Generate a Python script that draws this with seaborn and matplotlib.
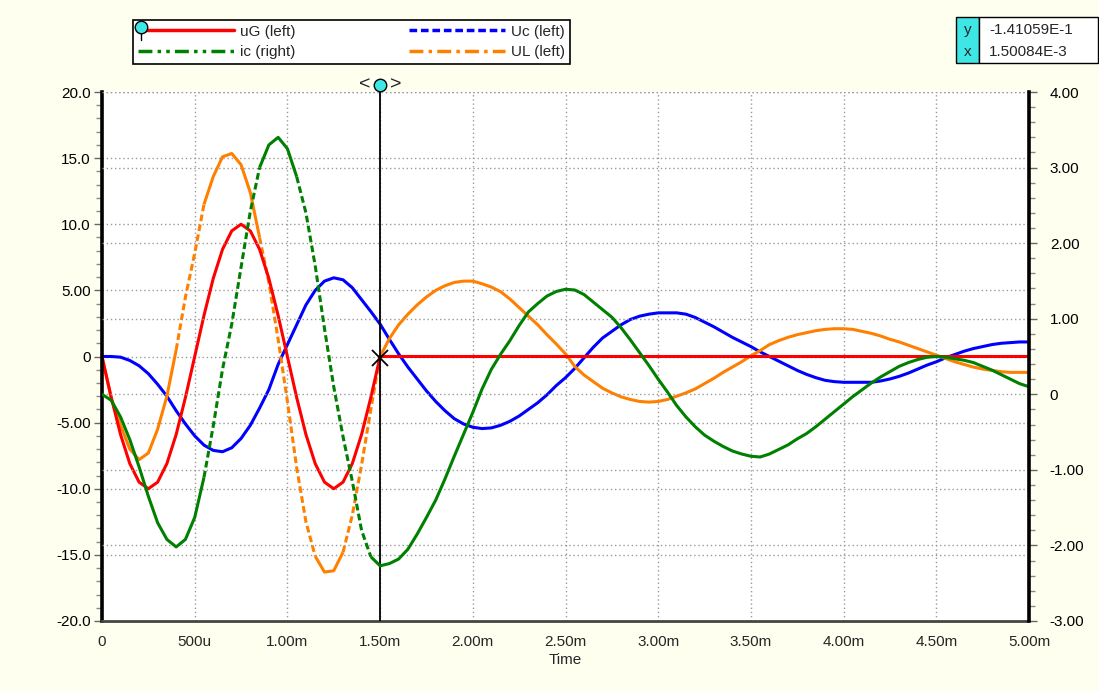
import numpy as np
import matplotlib
matplotlib.use("Agg")
import matplotlib.pyplot as plt
import matplotlib.transforms as mtransforms
from matplotlib.lines import Line2D
from matplotlib.patches import Rectangle
from matplotlib.ticker import MultipleLocator
import seaborn as sns

# ---------------- data ----------------
time_ms = np.round(np.arange(0, 5.0001, 0.05), 2)   # sample instants, ms

uG = [0, -3.1, -5.9, -8.1, -9.5, -10.0, -9.5, -8.1, -5.9, -3.1,
      0, 3.1, 5.9, 8.1, 9.5, 10.0, 9.5, 8.1, 5.9, 3.1,
      0, -3.1, -5.9, -8.1, -9.5, -10.0, -9.5, -8.1, -5.9, -3.1,
      0, 0, 0, 0, 0, 0, 0, 0, 0, 0,
      0, 0, 0, 0, 0, 0, 0, 0, 0, 0,
      0, 0, 0, 0, 0, 0, 0, 0, 0, 0,
      0, 0, 0, 0, 0, 0, 0, 0, 0, 0,
      0, 0, 0, 0, 0, 0, 0, 0, 0, 0,
      0, 0, 0, 0, 0, 0, 0, 0, 0, 0,
      0, 0, 0, 0, 0, 0, 0, 0, 0, 0, 0]

Uc = [0, 0, -0.05, -0.3, -0.7, -1.3, -2.1, -3.0, -4.1, -5.1,
      -6.0, -6.7, -7.1, -7.2, -6.9, -6.2, -5.2, -3.9, -2.5, -0.6,
      0.9, 2.4, 3.9, 5.0, 5.7, 5.95, 5.8, 5.2, 4.3, 3.4,
      2.45, 1.3, 0.2, -0.8, -1.7, -2.6, -3.4, -4.1, -4.7, -5.1,
      -5.35, -5.45, -5.4, -5.2, -4.9, -4.5, -4.0, -3.5, -2.9, -2.2,
      -1.6, -0.9, -0.1, 0.7, 1.4, 1.9, 2.4, 2.8, 3.05, 3.2,
      3.3, 3.3, 3.3, 3.2, 2.95, 2.6, 2.25, 1.85, 1.45, 1.1,
      0.75, 0.35, 0.0, -0.35, -0.7, -1.05, -1.35, -1.6, -1.8, -1.9,
      -1.95, -1.95, -1.95, -1.95, -1.85, -1.7, -1.5, -1.25, -0.95, -0.65,
      -0.4, -0.1, 0.15, 0.4, 0.6, 0.75, 0.9, 1.0, 1.05, 1.1, 1.1]

ic = [0, -0.08, -0.3, -0.6, -0.96, -1.35, -1.7, -1.92, -2.02, -1.92,
      -1.63, -1.1, -0.42, 0.33, 0.93, 1.68, 2.42, 3.0, 3.3, 3.4,
      3.25, 2.88, 2.4, 1.7, 0.87, 0.1, -0.56, -1.15, -1.8, -2.15,
      -2.27, -2.24, -2.18, -2.05, -1.85, -1.63, -1.4, -1.12, -0.82, -0.53,
      -0.24, 0.07, 0.33, 0.53, 0.71, 0.91, 1.09, 1.2, 1.3, 1.36,
      1.39, 1.38, 1.32, 1.22, 1.12, 1.02, 0.88, 0.72, 0.55, 0.38,
      0.2, 0.03, -0.15, -0.3, -0.43, -0.54, -0.62, -0.69, -0.75, -0.79,
      -0.82, -0.83, -0.79, -0.73, -0.67, -0.59, -0.52, -0.43, -0.33, -0.23,
      -0.13, -0.03, 0.06, 0.15, 0.23, 0.30, 0.37, 0.42, 0.46, 0.49,
      0.5, 0.49, 0.47, 0.45, 0.42, 0.37, 0.32, 0.26, 0.2, 0.14, 0.1]

UL = [0, -3.2, -5.2, -7.0, -7.8, -7.3, -5.5, -3.0, 0.5, 4.5,
      7.8, 11.5, 13.6, 15.1, 15.35, 14.5, 12.4, 9.0, 5.6, 1.3,
      -3.4, -8.4, -12.5, -15.1, -16.3, -16.2, -14.8, -12.0, -8.2, -4.0,
      0.0, 1.35, 2.4, 3.2, 3.9, 4.5, 5.0, 5.35, 5.6, 5.7,
      5.7, 5.5, 5.25, 4.9, 4.35, 3.7, 3.05, 2.4, 1.65, 0.95,
      0.2, -0.75, -1.4, -1.9, -2.4, -2.75, -3.05, -3.25, -3.4, -3.45,
      -3.4, -3.25, -3.0, -2.75, -2.45, -2.05, -1.65, -1.2, -0.8, -0.4,
      0.05, 0.45, 0.9, 1.2, 1.45, 1.65, 1.8, 1.95, 2.05, 2.1,
      2.1, 2.05, 1.9, 1.75, 1.55, 1.3, 1.1, 0.85, 0.6, 0.35,
      0.1, -0.15, -0.4, -0.6, -0.8, -0.95, -1.05, -1.15, -1.2, -1.2, -1.2]

x_ticks = [0, 0.5, 1.0, 1.5, 2.0, 2.5, 3.0, 3.5, 4.0, 4.5, 5.0]
x_labels = ["0", "500u", "1.00m", "1.50m", "2.00m", "2.50m", "3.00m",
            "3.50m", "4.00m", "4.50m", "5.00m"]
left_ticks = [-20, -15, -10, -5, 0, 5, 10, 15, 20]
left_labels = ["-20.0", "-15.0", "-10.0", "-5.00", "0", "5.00", "10.0", "15.0", "20.0"]
right_ticks = [-3, -2, -1, 0, 1, 2, 3, 4]
right_labels = ["-3.00", "-2.00", "-1.00", "0", "1.00", "2.00", "3.00", "4.00"]
legend_labels = ["uG (left)", "ic (right)", "Uc (left)", "UL (left)"]
cursor_t = 1.5
cursor_y = -0.141
readout_y = "-1.41059E-1"
readout_x = "1.50084E-3"

# ---------------- styling ----------------
sns.set_style("white")
plt.rcParams['font.family'] = ['Liberation Sans', 'DejaVu Sans']
FS = 11
BG = '#FFFFF0'
RED, BLUE, GREEN, ORANGE = '#FF0000', '#0000FF', '#008000', '#FF8000'
CYAN = '#3FE6E6'
LW = 2.2
DASH = (0, (2.2, 1.1))

W, H = 1099, 691
fig = plt.figure(figsize=(W / 100, H / 100), dpi=100, facecolor=BG)
ax = fig.add_axes([102 / W, 1 - 621 / H, 927 / W, 529 / H])
ax.set_facecolor('white')
ax2 = ax.twinx()

t = np.asarray(time_ms)


def draw(axis, vals, color, segments):
    v = np.asarray(vals, dtype=float)
    for i0, i1, ls in segments:
        sns.lineplot(x=t[i0:i1 + 1], y=v[i0:i1 + 1], ax=axis, color=color,
                     lw=LW, linestyle=ls, legend=False, sort=False,
                     solid_capstyle='butt')


draw(ax, Uc, BLUE, [(0, 100, '-')])
draw(ax, UL, ORANGE, [(0, 8, '-'), (8, 11, DASH), (11, 17, '-'),
                      (17, 23, DASH), (23, 26, '-'), (26, 30, DASH), (30, 100, '-')])
draw(ax, uG, RED, [(0, 100, '-')])
draw(ax2, ic, GREEN, [(0, 11, '-'), (11, 17, DASH), (17, 21, '-'),
                      (21, 29, DASH), (29, 100, '-')])

# axes limits / ticks
ax.set_xlim(0, 5.0)
ax.set_ylim(-20, 20)
ax2.set_ylim(-3, 4)
ax.set_xticks(x_ticks)
ax.set_xticklabels(x_labels, fontsize=FS)
ax.set_yticks(left_ticks)
ax.set_yticklabels(left_labels, fontsize=FS)
ax.yaxis.set_minor_locator(MultipleLocator(1))
ax2.set_yticks(right_ticks)
ax2.set_yticklabels(right_labels, fontsize=FS)
ax2.yaxis.set_minor_locator(MultipleLocator(0.2))
ax.set_xlabel("Time", fontsize=FS, labelpad=3)
ax.set_ylabel("")
ax2.set_ylabel("")

ax.tick_params(axis='y', which='major', direction='out', length=6, width=1,
               color='#666666', pad=2, labelcolor='black')
ax.tick_params(axis='y', which='minor', direction='out', length=4, width=1,
               color='#888888')
ax2.tick_params(axis='y', which='major', direction='out', length=6, width=1,
                color='#666666', pad=9, labelcolor='black')
ax2.tick_params(axis='y', which='minor', direction='out', length=4, width=1,
                color='#888888')
ax.tick_params(axis='x', which='major', direction='out', length=5, width=1,
               color='#888888', pad=5)

# grids (dotted)
grid_kw = dict(color='#9a9a9a', linestyle=(0, (1, 2)), linewidth=1.0)
ax.grid(True, axis='both', which='major', **grid_kw)
ax2.grid(True, axis='y', which='major', **grid_kw)
ax2.grid(False, axis='x')

# spines
for s in ['top', 'right']:
    ax.spines[s].set_visible(False)
for s in ['top', 'left', 'bottom']:
    ax2.spines[s].set_visible(False)
ax.spines['left'].set_linewidth(2.6)
ax.spines['left'].set_color('black')
ax2.spines['right'].set_linewidth(2.6)
ax2.spines['right'].set_color('black')
ax.spines['bottom'].set_color('#444444')
ax.spines['bottom'].set_linewidth(2.0)
ax.spines['bottom'].set_linestyle((0, (1, 1)))

# cursor
ax.axvline(cursor_t, color='black', lw=1.3, zorder=6)
ax.plot([cursor_t], [cursor_y], marker='x', ms=11, mew=1.3, color='black', zorder=7)
btr = mtransforms.blended_transform_factory(ax.transData, ax.transAxes)
ax.plot([cursor_t, cursor_t], [1.0, 1.014], color='black', lw=1.3,
        transform=btr, clip_on=False, zorder=7)
ax.plot([cursor_t], [1.014], marker='o', ms=9, mfc=CYAN, mec='black',
        mew=1.0, transform=btr, clip_on=False, zorder=8)
ax.annotate("<", xy=(cursor_t, 1.014), xycoords=btr, xytext=(-11, 0),
            textcoords='offset points', ha='center', va='center',
            fontsize=14, annotation_clip=False)
ax.annotate(">", xy=(cursor_t, 1.014), xycoords=btr, xytext=(11, 0),
            textcoords='offset points', ha='center', va='center',
            fontsize=14, annotation_clip=False)

# legend
handles = [
    Line2D([], [], color=RED, lw=2.5),
    Line2D([], [], color=GREEN, lw=2.5, linestyle=(0, (4, 1.5, 1, 1.5, 1, 1.5))),
    Line2D([], [], color=BLUE, lw=2.5, linestyle=(0, (2.2, 1.1))),
    Line2D([], [], color=ORANGE, lw=2.5, linestyle=(0, (4, 1.5, 1, 1.5))),
]
leg = fig.legend(handles, legend_labels, loc='lower left',
                 bbox_to_anchor=(133 / W, 1 - 64 / H, 437 / W, 47 / H),
                 mode='expand', ncol=2, frameon=True, fancybox=False,
                 edgecolor='black', facecolor='white', framealpha=1,
                 fontsize=FS, handlelength=6.3, handletextpad=0.4,
                 borderaxespad=0, borderpad=0.3, labelspacing=0.45)
leg.get_frame().set_linewidth(1.2)
leg.set_zorder(5)
fig.add_artist(Line2D([141 / W, 141 / W], [1 - 27 / H, 1 - 40 / H],
                      color='black', lw=1.0, transform=fig.transFigure,
                      zorder=20))
fig.add_artist(Line2D([141 / W], [1 - 27 / H], marker='o', ms=9,
                      mfc=CYAN, mec='black', mew=1.0,
                      transform=fig.transFigure, zorder=21))

# readout box (top right)
fig.add_artist(Rectangle((956 / W, 1 - 63 / H), 23 / W, 46 / H,
                         transform=fig.transFigure, facecolor=CYAN,
                         edgecolor='black', lw=1.0))
fig.add_artist(Rectangle((979 / W, 1 - 63 / H), 119 / W, 46 / H,
                         transform=fig.transFigure, facecolor='white',
                         edgecolor='black', lw=1.0))
fig.text(967.5 / W, 1 - 30 / H, "y", ha='center', va='center', fontsize=FS)
fig.text(967.5 / W, 1 - 52 / H, "x", ha='center', va='center', fontsize=FS)
fig.text(989 / W, 1 - 30 / H, readout_y, ha='left', va='center', fontsize=FS)
fig.text(989 / W, 1 - 52 / H, readout_x, ha='left', va='center', fontsize=FS)

fig.savefig("out.png", dpi=100, facecolor=BG)
